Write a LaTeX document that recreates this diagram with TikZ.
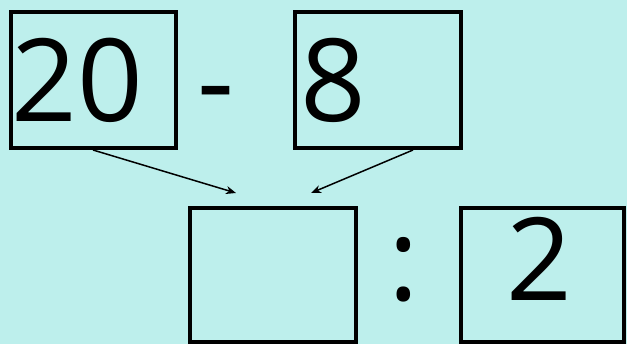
\documentclass[tikz,border=0pt]{standalone}
\usepackage{fontspec}
\setmainfont{Open Sans}
\usetikzlibrary{arrows.meta}
\definecolor{bgc}{RGB}{189,239,236}
\tikzset{
  numbox/.style={draw=black, line width=4pt},
  bignum/.style={inner sep=0pt, anchor=base, font=\fontsize{115}{115}\selectfont},
  link/.style={line width=1.5pt, -{Stealth[length=10pt,width=8pt,inset=3pt]}}
}
\begin{document}
\begin{tikzpicture}[x=1pt,y=-1pt]
\useasboundingbox (0,0) rectangle (627,344);
\fill[bgc] (0,0) rectangle (627,344);
% boxes
\draw[numbox] (11,12) rectangle (176,148);
\draw[numbox] (295,12) rectangle (461,148);
\draw[numbox] (190,208) rectangle (356,342);
\draw[numbox] (461,208) rectangle (624,342);
% texts
\node[bignum] (t20) at (77,122) {20};
\node[bignum] (tminus) at (216,122) {-};
\node[bignum] (t8) at (333.5,122) {8};
\node[bignum] (tcolon) at (403.5,301) {:};
\node[bignum] (t2) at (539,301) {2};
% connectors
\coordinate (s1) at (93,150);
\coordinate (e1) at (236,193);
\coordinate (s2) at (413,150);
\coordinate (e2) at (311,193);
\draw[link] (s1) -- (e1);
\draw[link] (s2) -- (e2);
\end{tikzpicture}
\end{document}
